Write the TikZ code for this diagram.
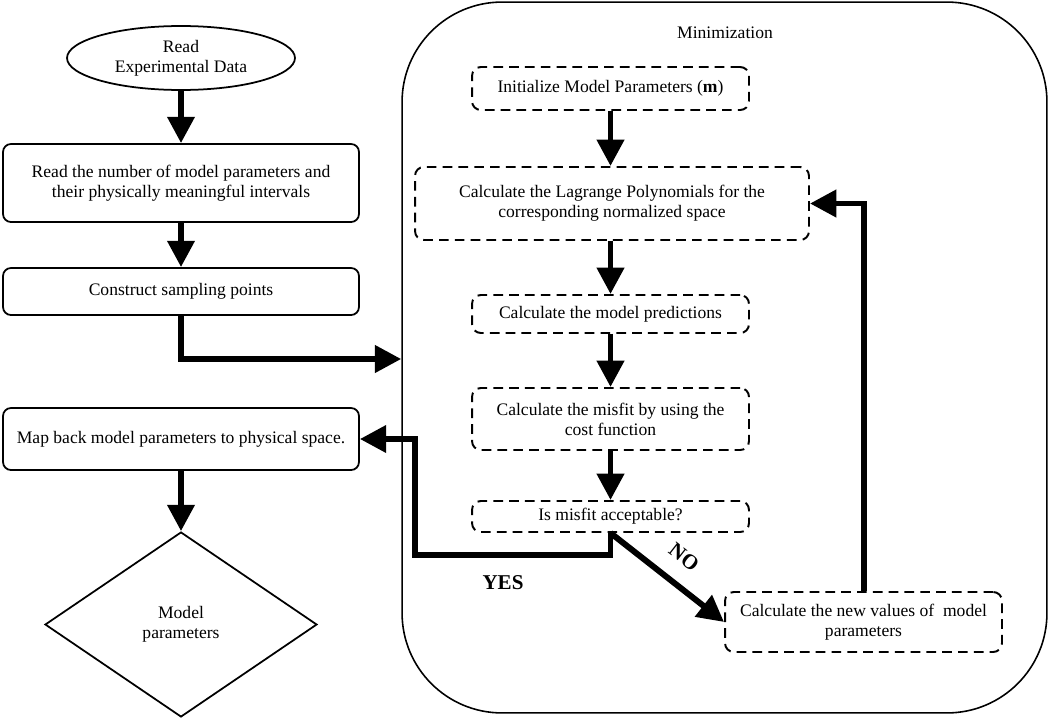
\documentclass[tikz,border=0pt]{standalone}
\usepackage{fontspec}
\setmainfont{Liberation Serif}
\usetikzlibrary{arrows.meta,shapes.geometric}
\begin{document}
\begin{tikzpicture}[x=0.02cm,y=-0.02cm,
  every node/.style={font=\fontsize{10}{11.4}\selectfont, align=center, inner sep=0pt},
  solidbox/.style={draw, line width=1pt, rounded corners=4.5pt, rectangle},
  dashbox/.style={draw, line width=1.1pt, rounded corners=5pt, rectangle, dash pattern=on 5.5pt off 3.5pt},
  arr/.style={line width=3.4pt, -{Triangle[width=15pt,length=15pt]}},
  lbl/.style={font=\fontsize{12}{14}\selectfont\bfseries}]
\useasboundingbox (0,0) rectangle (1050,720);
% big container
\node[draw, line width=0.9pt, rounded corners=2cm, minimum width=12.9cm, minimum height=14.22cm] (minbox) at (724.5,357.5) {};
\node (mintitle) at (725,33) {Minimization};
% left column
\node[draw, ellipse, line width=1pt, minimum width=4.56cm, minimum height=1.28cm] (read) at (181,58) {Read\\Experimental Data};
\node[solidbox, minimum width=7.12cm, minimum height=1.56cm] (b1) at (181,183) {Read the number of model parameters and\\their physically meaningful intervals};
\node[solidbox, minimum width=7.12cm, minimum height=0.94cm] (b2) at (181,291.5) {Construct sampling points};
\node[solidbox, minimum width=7.12cm, minimum height=1.24cm] (b3) at (181,439) {Map back model parameters to physical space.};
\node[draw, diamond, line width=1pt, minimum width=5.44cm, minimum height=3.7cm] (dia) at (181,624.5) {Model\\parameters};
% right column
\node[dashbox, minimum width=5.54cm, minimum height=0.86cm] (init) at (610.5,88.5) {Initialize Model Parameters (\textbf{m})};
\node[dashbox, minimum width=7.88cm, minimum height=1.46cm] (lag) at (612,203.5) {Calculate the Lagrange Polynomials for the\\corresponding normalized space};
\node[dashbox, minimum width=5.54cm, minimum height=0.76cm] (pred) at (610.5,314) {Calculate the model predictions};
\node[dashbox, minimum width=5.54cm, minimum height=1.24cm] (mis) at (610.5,419) {Calculate the misfit by using the\\cost function};
\node[dashbox, minimum width=5.54cm, minimum height=0.62cm] (acc) at (610.5,516.5) {Is misfit acceptable?};
\node[dashbox, minimum width=5.54cm, minimum height=1.2cm] (newv) at (863.5,622) {Calculate the new values of\ \ model\\parameters};
% connectors left
\draw[arr] (read.south) -- (b1.north);
\draw[arr] (b1.south) -- (b2.north);
\coordinate (jn) at (181,359);
\draw[arr] (b2.south) -- (jn) -- (jn -| minbox.west);
\draw[arr] (b3.south) -- (dia.north);
% connectors right
\draw[arr] (init.south) -- (init.south |- lag.north);
\draw[arr] (lag.south -| pred.north) -- (pred.north);
\draw[arr] (pred.south) -- (mis.north);
\draw[arr] (mis.south) -- (acc.north);
\coordinate (yb) at (415,555);
\draw[arr] (acc.south) |- (yb) |- (b3.east);
\draw[arr] (acc.south) -- (newv.west);
\draw[arr] (newv.north) |- (lag.east);
% labels
\node[lbl] (yes) at (503,583) {YES};
\node[lbl, rotate=-38] (no) at (684,557) {NO};
\end{tikzpicture}
\end{document}
